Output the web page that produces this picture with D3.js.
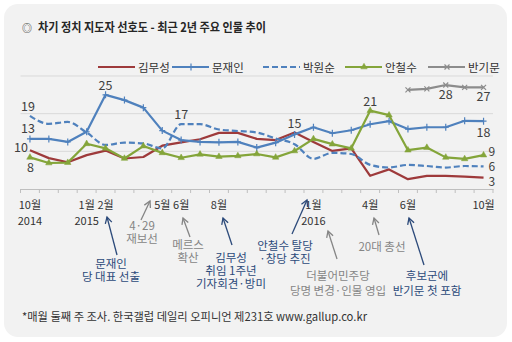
<!DOCTYPE html>
<html><head><meta charset="utf-8">
<script src="https://cdn.jsdelivr.net/npm/d3@7/dist/d3.min.js"></script>
<style>
body{margin:0;background:#fff}
svg{display:block}
text{font-family:"Noto Sans CJK KR","Noto Sans",sans-serif}
</style>
</head><body>
<svg id="c" width="512" height="342"></svg>
<script>
// ---- data ----
const months = ["2014-10","2014-11","2014-12","2015-01","2015-02","2015-03","2015-04","2015-05","2015-06","2015-07","2015-08","2015-09","2015-10","2015-11","2015-12","2016-01","2016-02","2016-03","2016-04","2016-05","2016-06","2016-07","2016-08","2016-09","2016-10"];
const kimMuseong = [10.3,8.2,7.1,9.0,10.2,8.1,8.5,11.5,12.4,13.2,14.9,14.9,13.3,13.0,15.0,12.5,10.1,10.8,3.5,5.2,2.6,3.5,3.5,3.3,3];
const moonJaein  = [13.3,13.3,12.5,15.2,25,23.6,21.6,15.5,13.0,12.5,12.4,12.5,11.0,12.3,14.5,16.4,14.8,15.6,17.2,18.0,15.9,16.4,16.4,18.1,18];
const parkWonsoon= [19.4,17.3,17.8,15.0,11.7,12.3,12.1,10.8,17.2,17.2,15.8,15.4,15.0,13.4,11.9,8.0,9.6,9.3,6.4,5.7,6.4,6.1,5.7,6.1,6];
const ahnCheolsoo= [8.4,6.9,7.0,12.0,10.8,8.1,11.4,9.6,8.3,9.2,8.6,8.8,9.3,8.4,10.1,13.3,11.9,10.8,20.8,19.6,10.3,11.0,8.4,8.0,9];
const banKimoon  = [null,null,null,null,null,null,null,null,null,null,null,null,null,null,null,null,null,null,null,null,26.3,26.6,27.6,27,27];
const seriesNames = ["김무성","문재인","박원순","안철수","반기문"];
const yTicks = [0,10,20,30];
// tick labels: [month index, first line, second line]
const tickLabels = [[0,"10월","2014"],[3,"1월","2015"],[4,"2월",""],[7,"5월",""],[8,"6월",""],[10,"8월",""],[15,"1월","2016"],[18,"4월",""],[20,"6월",""],[24,"10월",""]];
// value labels: [series index, month index, side]
const valueLabels = [[2,0,"left"],[1,0,"left"],[0,0,"left"],[3,0,"left"],[1,4,"top"],[2,8,"top"],[0,14,"top"],[3,18,"top"],[4,22,"below"],[4,24,"below"],[1,24,"below"],[3,24,"right"],[2,24,"right"],[0,24,"right"]];
// annotations
const annotations = [
  {m:4, lines:["문재인","당 대표 선출"], tone:"navy"},
  {m:7, lines:["4·29","재보선"], tone:"gray"},
  {m:8, lines:["메르스","확산"], tone:"gray"},
  {m:10, lines:["김무성","취임 1주년","기자회견·방미"], tone:"navy"},
  {m:15, lines:["안철수 탈당","·창당 추진"], tone:"navy"},
  {m:16, lines:["더불어민주당","당명 변경·인물 영입"], tone:"gray"},
  {m:18, lines:["20대 총선"], tone:"gray"},
  {m:20, lines:["후보군에","반기문 첫 포함"], tone:"navy"}
];
const footer = "*매월 둘째 주 조사. 한국갤럽 데일리 오피니언 제231호 www.gallup.co.kr";
const title = "차기 정치 지도자 선호도 - 최근 2년 주요 인물 추이";

// ---- styles / layout ----
const allValues = [kimMuseong, moonJaein, parkWonsoon, ahnCheolsoo, banKimoon];
const colors = ["#9e3a3b","#4f81bd","#4f81bd","#84a53a","#8c8c8c"];
const dashes = [null,null,"6,3",null,null];
const markers = [null,"plus",null,"tri","x"];
const toneColor = {navy:"#2c4a7a", gray:"#858585"};
// annotation layout: arrow head, arrow tail, text center x, first baseline, line gap
const annLayout = [
  {head:[107,217], tail:[117,255], tx:111, ty:268, dy:13},
  {head:[150,201], tail:[141,220], tx:142, ty:230, dy:13},
  {head:[183,218], tail:[190,237], tx:188, ty:249, dy:13},
  {head:[223,218], tail:[232,245], tx:231, ty:262, dy:13},
  {head:[307,200], tail:[292,234], tx:285, ty:250, dy:13},
  {head:[328,231], tail:[337,259], tx:338, ty:280, dy:15},
  {head:[374,218], tail:[379,235], tx:382, ty:251, dy:13},
  {head:[409,218], tail:[424,265], tx:427, ty:280, dy:15}
];

const svg = d3.select("#c");
svg.append("rect").attr("x",4).attr("y",4).attr("width",503).attr("height",333).attr("rx",14).attr("fill","#f2f2f2");

// title
svg.append("text").attr("x",22).attr("y",32).attr("font-size",10).attr("fill","#333").text("◎");
svg.append("text").attr("x",38).attr("y",32).attr("font-size",12.5).attr("font-weight","bold").attr("fill","#262626")
  .attr("textLength",228).attr("lengthAdjust","spacingAndGlyphs").text(title);

const xBand = d3.scaleBand().domain(months).range([20.5,493]).padding(0);
const xc = i => xBand(months[i]) + xBand.bandwidth()/2;
const y = d3.scaleLinear().domain([0,30]).range([189,76]);

// gridlines
svg.append("g").selectAll("line").data(yTicks.filter(t=>t>0)).join("line")
  .attr("x1",20.5).attr("x2",493).attr("y1",d=>y(d)).attr("y2",d=>y(d))
  .attr("stroke","#d9d9d9").attr("stroke-width",1);

// x axis
const axisG = svg.append("g").attr("transform",`translate(0,${y(0)})`)
  .call(d3.axisBottom(xBand).tickFormat("").tickSizeOuter(0).tickSize(0));
axisG.select(".domain").attr("stroke","#bfbfbf");
const tickPos = months.map(m=>xBand(m)).concat([xBand(months[months.length-1])+xBand.bandwidth()]);
axisG.selectAll(".mt").data(tickPos).join("line").attr("class","mt")
  .attr("x1",d=>d).attr("x2",d=>d).attr("y1",0).attr("y2",4).attr("stroke","#bfbfbf");

const tl = svg.append("g").attr("font-size",11).attr("fill","#333").attr("text-anchor","middle");
tl.selectAll(".t1").data(tickLabels).join("text").attr("class","t1")
  .attr("x",d=>xc(d[0])).attr("y",209).text(d=>d[1]);
tl.selectAll(".t2").data(tickLabels.filter(d=>d[2])).join("text").attr("class","t2")
  .attr("x",d=>xc(d[0])).attr("y",225).text(d=>d[2]);

// lines
allValues.forEach((vals,si)=>{
  const line = d3.line().defined(d=>d!=null).x((d,i)=>xc(i)).y(d=>y(d))
    .curve(si===2 ? d3.curveMonotoneX : d3.curveLinear);
  svg.append("path").datum(vals).attr("d",line).attr("fill","none")
    .attr("stroke",colors[si]).attr("stroke-width",2.2)
    .attr("stroke-dasharray",dashes[si]).attr("stroke-linejoin","round");
});
function drawMarker(g, type, x, yy, color){
  if(type==="plus"){
    g.append("path").attr("d",`M${x-3},${yy}H${x+3}M${x},${yy-3.5}V${yy+3.5}`).attr("stroke",color).attr("stroke-width",1.2).attr("fill","none");
  } else if(type==="tri"){
    g.append("path").attr("d",d3.symbol(d3.symbolTriangle,18)()).attr("transform",`translate(${x},${yy})`).attr("fill",color).attr("stroke",color).attr("stroke-width",0.5);
  } else if(type==="x"){
    g.append("path").attr("d",`M${x-2.5},${yy-2.5}L${x+2.5},${yy+2.5}M${x-2.5},${yy+2.5}L${x+2.5},${yy-2.5}`).attr("stroke",color).attr("stroke-width",1.2).attr("fill","none");
  }
}
const mg = svg.append("g");
allValues.forEach((vals,si)=>{
  if(!markers[si]) return;
  vals.forEach((v,i)=>{ if(v!=null) drawMarker(mg, markers[si], xc(i), y(v), colors[si]); });
});

// value labels
const vl = svg.append("g").attr("font-size",12.5).attr("fill","#404040");
valueLabels.forEach(([si,mi,side])=>{
  const v = allValues[si][mi];
  let px = xc(mi), py = y(v), anchor="middle", fs = 12.5;
  if(side==="left"){
    anchor="end";
    if(si===2){px=xc(mi)+5; py=y(v)-5;}
    if(si===1){px=xc(mi)+5; py=y(v)-6;}
    if(si===0){px=xc(mi)-2; py=y(v)+2;}
    if(si===3){px=xc(mi)+4; py=y(v)+15;}
  }
  else if(side==="top"){ py = y(v)-5; }
  else if(side==="below"){ py = y(v)+14; if(si===1) py = y(v)+16; }
  else if(side==="right"){ px = xc(mi)+5; anchor="start"; fs = 12;
    if(si===3) py=y(v)+1; if(si===2) py=y(v)+4.5; if(si===0) py=y(v)+8; }
  vl.append("text").attr("x",px).attr("y",py).attr("text-anchor",anchor).attr("font-size",fs).text(Math.round(v));
});

// legend
const legX = [98,172,263,345,428];
const lg = svg.append("g").attr("font-size",11.5).attr("fill","#333");
seriesNames.forEach((n,si)=>{
  const x0 = legX[si], ly = 67;
  lg.append("line").attr("x1",x0).attr("x2",x0+37).attr("y1",ly).attr("y2",ly)
    .attr("stroke",colors[si]).attr("stroke-width",2.2).attr("stroke-dasharray",dashes[si]);
  if(markers[si]) drawMarker(lg, markers[si], x0+19, ly, colors[si]);
  lg.append("text").attr("x",x0+40).attr("y",ly+4.5).text(n);
});

// annotations
const ag = svg.append("g");
annotations.forEach((a,k)=>{
  const L = annLayout[k], c = toneColor[a.tone];
  const [hx,hy] = L.head, [tx,ty] = L.tail;
  ag.append("line").attr("x1",tx).attr("y1",ty).attr("x2",hx).attr("y2",hy).attr("stroke",c).attr("stroke-width",1.3);
  const ang = Math.atan2(ty-hy, tx-hx), len=7, spread=0.5;
  const p1 = [hx+len*Math.cos(ang+spread), hy+len*Math.sin(ang+spread)];
  const p2 = [hx+len*Math.cos(ang-spread), hy+len*Math.sin(ang-spread)];
  ag.append("path").attr("d",`M${p1}L${hx},${hy}L${p2}`).attr("fill","none").attr("stroke",c).attr("stroke-width",1.3);
  a.lines.forEach((t,j)=>{
    ag.append("text").attr("x",L.tx).attr("y",L.ty+j*L.dy).attr("text-anchor","middle")
      .attr("font-size",11.5).attr("fill",c).text(t);
  });
});

// footer
svg.append("text").attr("x",22).attr("y",321).attr("font-size",11.5).attr("fill","#333")
  .attr("textLength",345).attr("lengthAdjust","spacingAndGlyphs").text(footer);
</script>
</body></html>
